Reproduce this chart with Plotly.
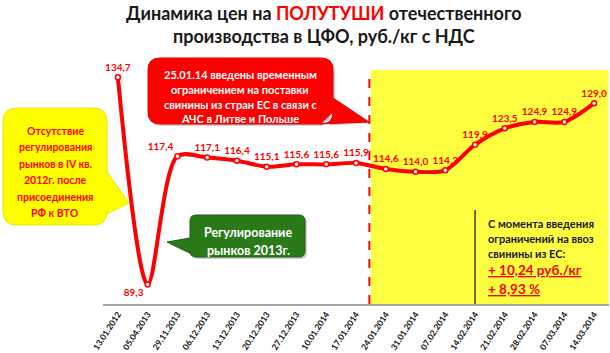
import plotly.graph_objects as go

# ---- data ----
dates = ["13.01.2012", "05.04.2013", "29.11.2013", "06.12.2013", "13.12.2013",
         "20.12.2013", "27.12.2013", "10.01.2014", "17.01.2014", "24.01.2014",
         "31.01.2014", "07.02.2014", "14.02.2014", "21.02.2014", "28.02.2014",
         "07.03.2014", "14.03.2014"]
prices = [134.7, 89.3, 117.4, 117.1, 116.4, 115.1, 115.6, 115.6, 115.9, 114.6,
          114.0, 114.3, 119.9, 123.5, 124.9, 124.9, 129.0]
label_pos = ["top center", "bottom left", "top left"] + ["top center"] * 14

W, H = 610, 353
L, R, T, B = 103, 1, 53, 49
PW, PH = W - L - R, H - T - B
FONT = "Lato, Carlito, Calibri, Liberation Sans, sans-serif"


def px(x):
    return (x - L) / PW


def py(y):
    return (H - B - y) / PH


def rounded_path(x0, y0, x1, y1, r, pointer=None):
    rx, ry = r / PW, r / PH
    X0, X1 = px(x0), px(x1)
    Y0, Y1 = py(y0), py(y1)
    segs = [f"M{X0+rx},{Y0}", f"L{X1-rx},{Y0}", f"Q{X1},{Y0} {X1},{Y0-ry}"]
    if pointer and pointer[0] == "right":
        segs += [f"L{px(a)},{py(b)}" for (a, b) in pointer[1]]
    segs += [f"L{X1},{Y1+ry}", f"Q{X1},{Y1} {X1-rx},{Y1}"]
    segs += [f"L{X0+rx},{Y1}", f"Q{X0},{Y1} {X0},{Y1+ry}"]
    if pointer and pointer[0] == "left":
        segs += [f"L{px(a)},{py(b)}" for (a, b) in pointer[1]]
    segs += [f"L{X0},{Y0-ry}", f"Q{X0},{Y0} {X0+rx},{Y0}", "Z"]
    return " ".join(segs)


fig = go.Figure()

fig.add_trace(go.Scatter(
    x=list(range(len(dates))), y=prices,
    mode="lines+markers+text",
    line=dict(color="#ff0000", width=4, shape="spline", smoothing=0.85),
    marker=dict(size=5, color="white", line=dict(color="#ff0000", width=1.5)),
    texttemplate="%{y:.1f}", textposition=label_pos,
    textfont=dict(family=FONT, size=10, color="#ff0000", weight="bold"),
    cliponaxis=False, hoverinfo="skip", showlegend=False,
))

shapes = []
shapes.append(dict(type="rect", xref="x", yref="paper", x0=8.5, x1=16.48,
                   y0=0, y1=py(70), fillcolor="#ffff40", line=dict(width=0),
                   layer="below"))
shapes.append(dict(type="line", xref="x", yref="paper", x0=8.45, x1=8.45,
                   y0=0, y1=py(70), line=dict(color="#ff0000", width=2, dash="dash")))
shapes.append(dict(type="line", xref="x", yref="paper", x0=12, x1=12,
                   y0=0, y1=py(210), line=dict(color="#404040", width=1.5)))

# red callout
shapes.append(dict(type="path", xref="paper", yref="paper",
                   path=rounded_path(150, 60, 335, 126, 12,
                                     ("right", [(335, 100), (371, 123), (322, 126)])),
                   fillcolor="rgba(120,120,120,0.35)", line=dict(width=0)))
shapes.append(dict(type="path", xref="paper", yref="paper",
                   path=rounded_path(148, 58, 333, 124, 12,
                                     ("right", [(333, 98), (369, 122), (320, 124)])),
                   fillcolor="#ff0000", line=dict(color="#e00000", width=1)))
# yellow left callout
shapes.append(dict(type="path", xref="paper", yref="paper",
                   path=rounded_path(3, 108, 107, 225, 14,
                                     ("right", [(107, 172), (129, 203), (107, 214)])),
                   fillcolor="#ffff00", line=dict(color="#e6e600", width=1)))
# green callout
shapes.append(dict(type="path", xref="paper", yref="paper",
                   path=rounded_path(192, 217, 307, 259, 6,
                                     ("left", [(192, 255), (169, 244), (192, 240)])),
                   fillcolor="rgba(120,120,120,0.35)", line=dict(width=0)))
shapes.append(dict(type="path", xref="paper", yref="paper",
                   path=rounded_path(190, 215, 305, 257, 6,
                                     ("left", [(190, 253), (167, 242), (190, 238)])),
                   fillcolor="#2a7a1a", line=dict(color="#1e5e12", width=1)))

annotations = []


def add_lines(lines, x, ys, size, color, anchor="center"):
    for text, y in zip(lines, ys):
        annotations.append(dict(
            xref="paper", yref="paper", x=px(x), y=py(y), xanchor=anchor,
            yanchor="middle", text=text, showarrow=False,
            font=dict(family=FONT, size=size, color=color, weight="bold")))


add_lines(["Динамика цен на <span style='color:#ff0000'>ПОЛУТУШИ</span> отечественного",
           "производства в ЦФО, руб./кг с НДС"],
          324, [13, 36], 18, "#1a1a1a")
add_lines(["25.01.14 введены временным", "ограничением на поставки",
           "свинины из стран ЕС в связи с", "АЧС в Литве и Польше"],
          240, [74, 89, 104, 118], 11, "white")
add_lines(["Отсутствие", "регулирования", "рынков в IV кв.", "2012г. после",
           "присоединения", "РФ к ВТО"],
          55, [131, 147, 164, 180, 197, 213], 10.5, "#ff0000")
add_lines(["Регулирование", "рынков 2013г."], 248, [232, 250], 12.5, "white")
add_lines(["С момента введения", "ограничений на ввоз", "свинины из ЕС:"],
          486, [223, 238, 253], 11, "#1a1a1a", anchor="left")
add_lines(["<u>+ 10,24 руб./кг</u>", "<u>+ 8,93 %</u>"],
          486, [270, 289], 13.5, "#ff0000", anchor="left")

fig.update_layout(
    width=W, height=H,
    margin=dict(l=L, r=R, t=T, b=B),
    paper_bgcolor="white", plot_bgcolor="rgba(0,0,0,0)",
    separators=", ",
    shapes=shapes, annotations=annotations,
    xaxis=dict(range=[-0.5, 16.5], tickmode="array", tickvals=list(range(len(dates))),
               ticktext=dates, tickangle=-57, showgrid=False, zeroline=False,
               showline=True, linecolor="#a6a6a6", linewidth=2, ticks="",
               tickfont=dict(family=FONT, size=8.5, color="#111111", weight="bold"),
               fixedrange=True),
    yaxis=dict(range=[85, 140], showgrid=False, zeroline=False, showticklabels=False,
               showline=False, ticks="", fixedrange=True),
)

fig.write_html("out.html")
